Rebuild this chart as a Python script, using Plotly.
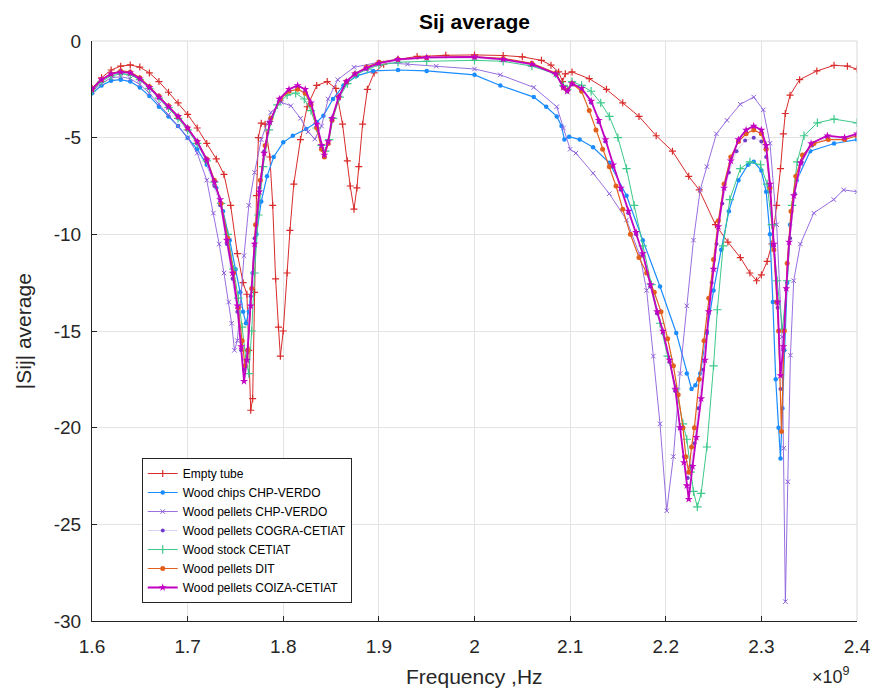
import plotly.graph_objects as go

# ---------------- data (frequency in GHz, |Sij| average) ----------------
empty_f = [1.600,1.610,1.620,1.630,1.640,1.650,1.660,1.670,1.680,1.690,1.700,1.710,1.720,1.730,1.738,1.745,1.752,1.758,1.762,1.764,1.766,1.768,1.770,1.772,1.774,1.777,1.781,1.786,1.789,1.792,1.795,1.797,1.800,1.804,1.807,1.811,1.818,1.825,1.835,1.846,1.855,1.862,1.867,1.870,1.874,1.877,1.879,1.883,1.888,1.895,1.905,1.920,1.940,1.970,2.000,2.030,2.050,2.070,2.080,2.088,2.092,2.095,2.102,2.120,2.138,2.155,2.172,2.190,2.207,2.224,2.235,2.252,2.265,2.278,2.288,2.295,2.300,2.306,2.311,2.316,2.320,2.323,2.325,2.330,2.340,2.358,2.376,2.390,2.400]
empty_s = [-2.45,-1.9,-1.5,-1.3,-1.24,-1.35,-1.65,-2.1,-2.65,-3.2,-3.8,-4.5,-5.3,-6.1,-6.9,-8.5,-11.0,-12.5,-13.1,-16.0,-19.1,-18.5,-13.0,-8.0,-5.0,-4.25,-4.3,-6.0,-8.5,-12.3,-14.8,-16.3,-15.0,-12.0,-9.8,-7.4,-5.1,-3.4,-2.3,-2.1,-2.45,-4.3,-6.2,-7.5,-8.7,-7.6,-6.5,-4.3,-2.5,-1.65,-1.2,-0.95,-0.8,-0.74,-0.72,-0.75,-0.82,-1.0,-1.25,-1.6,-2.1,-1.7,-1.6,-1.95,-2.5,-3.2,-3.9,-4.9,-5.7,-7.0,-7.7,-9.5,-10.4,-11.2,-12.0,-12.4,-12.1,-11.4,-10.5,-8.5,-6.6,-4.8,-3.75,-2.8,-2.0,-1.55,-1.26,-1.3,-1.45]

chips_f = [1.600,1.610,1.620,1.630,1.640,1.650,1.660,1.670,1.680,1.690,1.700,1.710,1.720,1.730,1.737,1.744,1.750,1.755,1.758,1.761,1.764,1.768,1.772,1.777,1.783,1.790,1.800,1.810,1.824,1.835,1.842,1.852,1.863,1.877,1.894,1.920,1.950,2.000,2.027,2.062,2.075,2.086,2.091,2.094,2.099,2.110,2.124,2.141,2.159,2.176,2.194,2.211,2.222,2.227,2.231,2.236,2.243,2.250,2.258,2.266,2.276,2.286,2.292,2.300,2.305,2.309,2.312,2.315,2.318,2.320,2.322,2.324,2.327,2.330,2.337,2.351,2.376,2.400]
chips_s = [-2.7,-2.3,-2.05,-2.0,-2.1,-2.4,-2.85,-3.4,-3.9,-4.4,-5.0,-5.6,-6.4,-7.6,-8.8,-10.3,-11.8,-13.0,-14.0,-14.6,-14.0,-12.0,-10.0,-8.3,-7.0,-6.0,-5.24,-4.9,-4.55,-4.2,-3.86,-3.0,-2.3,-1.8,-1.55,-1.5,-1.55,-1.75,-2.3,-2.9,-3.4,-3.9,-4.4,-5.1,-4.95,-5.1,-5.5,-6.3,-8.0,-10.3,-12.7,-15.1,-17.2,-18.0,-17.8,-17.2,-15.1,-12.9,-10.8,-8.8,-7.2,-6.4,-6.25,-6.7,-7.8,-10.0,-13.5,-17.5,-20.0,-21.6,-19.0,-16.0,-12.5,-9.5,-7.2,-5.7,-5.3,-5.1]

verdo_f = [1.600,1.610,1.620,1.630,1.640,1.650,1.660,1.670,1.680,1.690,1.700,1.710,1.720,1.727,1.733,1.738,1.743,1.746,1.749,1.752,1.755,1.759,1.764,1.770,1.777,1.787,1.798,1.808,1.818,1.826,1.833,1.840,1.847,1.857,1.874,1.900,1.930,1.960,2.000,2.027,2.062,2.086,2.093,2.100,2.106,2.124,2.141,2.159,2.173,2.180,2.187,2.194,2.201,2.208,2.215,2.222,2.229,2.236,2.243,2.253,2.264,2.278,2.292,2.302,2.309,2.316,2.3216,2.3234,2.3251,2.3276,2.3304,2.3338,2.3408,2.3548,2.3757,2.386,2.400]
verdo_s = [-2.6,-2.2,-1.9,-1.85,-1.95,-2.25,-2.7,-3.25,-3.8,-4.4,-5.0,-5.8,-7.2,-8.9,-10.5,-12.0,-13.5,-14.6,-16.0,-15.5,-13.7,-11.1,-8.5,-6.8,-5.1,-3.7,-3.17,-3.35,-4.0,-4.7,-5.07,-4.4,-3.0,-2.0,-1.36,-1.1,-1.2,-1.3,-1.45,-1.75,-2.4,-3.4,-4.5,-5.6,-5.8,-6.84,-7.9,-9.26,-11.1,-12.9,-16.3,-19.8,-24.3,-21.5,-17.2,-13.7,-10.3,-7.7,-6.5,-4.8,-4.1,-3.27,-2.9,-3.56,-5.29,-9.5,-15.3,-21.06,-29.0,-22.8,-16.25,-12.4,-10.5,-8.9,-8.2,-7.7,-7.8]

cogra_f = [1.600,1.610,1.620,1.630,1.640,1.650,1.660,1.670,1.680,1.690,1.700,1.710,1.720,1.728,1.734,1.741,1.747,1.752,1.756,1.759,1.762,1.766,1.770,1.775,1.780,1.786,1.796,1.806,1.815,1.823,1.829,1.835,1.840,1.843,1.847,1.851,1.858,1.866,1.875,1.887,1.900,1.920,1.950,2.000,2.030,2.060,2.085,2.093,2.097,2.102,2.112,2.122,2.130,2.137,2.145,2.153,2.161,2.169,2.176,2.184,2.191,2.197,2.204,2.210,2.215,2.219,2.223,2.226,2.230,2.234,2.239,2.243,2.248,2.253,2.259,2.266,2.274,2.283,2.292,2.300,2.305,2.309,2.313,2.317,2.320,2.323,2.326,2.330,2.335,2.342,2.353,2.369,2.387,2.400]
cogra_s = [-2.55,-2.05,-1.75,-1.65,-1.7,-2.0,-2.45,-2.95,-3.45,-4.0,-4.6,-5.3,-6.3,-7.5,-8.5,-10.5,-12.3,-14.0,-16.0,-17.0,-16.0,-13.2,-10.2,-7.6,-5.7,-4.2,-3.1,-2.6,-2.45,-2.65,-3.3,-4.4,-5.5,-5.9,-5.2,-4.0,-2.9,-2.15,-1.75,-1.45,-1.2,-1.0,-0.9,-0.88,-1.0,-1.25,-1.75,-2.45,-2.6,-2.25,-2.5,-3.2,-4.2,-5.2,-6.5,-7.7,-8.9,-10.0,-11.1,-12.7,-14.1,-15.1,-16.6,-18.1,-20.0,-21.5,-22.6,-22.0,-20.8,-19.0,-17.0,-15.0,-12.5,-10.5,-8.4,-6.8,-5.7,-5.15,-5.0,-5.2,-6.0,-7.8,-10.6,-13.8,-18.0,-16.0,-12.8,-10.2,-7.9,-6.3,-5.4,-5.0,-5.05,-4.85]

stock_f = [1.600,1.610,1.620,1.630,1.640,1.650,1.660,1.670,1.680,1.690,1.700,1.710,1.720,1.728,1.735,1.742,1.748,1.753,1.757,1.761,1.764,1.767,1.770,1.774,1.779,1.785,1.794,1.804,1.813,1.822,1.829,1.835,1.840,1.844,1.848,1.852,1.859,1.867,1.876,1.888,1.900,1.920,1.950,2.000,2.030,2.060,2.085,2.093,2.097,2.102,2.112,2.122,2.132,2.141,2.150,2.159,2.167,2.176,2.185,2.194,2.202,2.211,2.218,2.222,2.226,2.229,2.233,2.237,2.243,2.250,2.254,2.260,2.267,2.278,2.288,2.299,2.306,2.311,2.3165,2.322,2.327,2.332,2.3375,2.3446,2.3586,2.376,2.400]
stock_s = [-2.6,-2.1,-1.8,-1.7,-1.75,-2.0,-2.45,-2.95,-3.45,-4.0,-4.6,-5.3,-6.2,-7.3,-8.4,-10.0,-11.8,-13.3,-14.8,-16.5,-17.2,-15.0,-12.0,-9.0,-6.5,-4.6,-3.3,-2.8,-2.7,-3.0,-3.6,-4.5,-5.4,-5.7,-5.1,-4.0,-2.9,-2.2,-1.75,-1.45,-1.25,-1.1,-1.05,-1.0,-1.05,-1.3,-1.7,-2.3,-2.5,-2.1,-2.3,-2.6,-3.2,-3.9,-5.0,-6.6,-8.5,-10.6,-12.6,-14.6,-16.3,-18.0,-19.8,-20.6,-22.3,-23.3,-24.1,-23.4,-21.0,-16.8,-13.9,-10.6,-8.2,-6.6,-6.25,-6.4,-7.4,-9.5,-12.4,-14.9,-12.4,-8.5,-6.25,-4.9,-4.23,-4.04,-4.23]

dit_f = [1.600,1.610,1.620,1.630,1.640,1.650,1.660,1.670,1.680,1.690,1.700,1.710,1.720,1.728,1.735,1.742,1.748,1.753,1.757,1.760,1.763,1.767,1.771,1.776,1.781,1.787,1.797,1.806,1.815,1.823,1.829,1.835,1.840,1.843,1.847,1.851,1.858,1.866,1.875,1.887,1.900,1.920,1.950,2.000,2.030,2.060,2.085,2.093,2.097,2.102,2.112,2.120,2.127,2.134,2.141,2.148,2.155,2.163,2.172,2.180,2.188,2.195,2.202,2.208,2.213,2.218,2.221,2.224,2.227,2.230,2.235,2.240,2.245,2.250,2.255,2.261,2.268,2.276,2.284,2.292,2.300,2.305,2.309,2.313,2.316,2.318,2.321,2.324,2.327,2.331,2.336,2.343,2.355,2.370,2.387,2.400]
dit_s = [-2.5,-2.0,-1.7,-1.55,-1.6,-1.9,-2.35,-2.85,-3.35,-3.9,-4.5,-5.2,-6.1,-7.2,-8.4,-10.2,-12.0,-13.8,-15.5,-16.8,-16.0,-12.8,-9.5,-7.2,-5.4,-4.0,-3.0,-2.6,-2.5,-2.7,-3.3,-4.5,-5.6,-6.0,-5.3,-4.1,-2.9,-2.1,-1.7,-1.35,-1.1,-0.95,-0.85,-0.82,-0.9,-1.15,-1.65,-2.4,-2.55,-2.2,-2.6,-3.6,-4.6,-5.6,-6.5,-7.5,-8.7,-10.0,-11.2,-12.0,-13.0,-14.0,-15.4,-16.8,-18.3,-20.0,-21.5,-22.3,-21.0,-20.0,-17.5,-15.5,-13.3,-11.3,-9.3,-7.4,-6.0,-5.2,-4.8,-4.6,-4.8,-5.6,-7.6,-10.8,-13.5,-15.0,-20.2,-15.0,-11.5,-8.8,-7.0,-5.9,-5.3,-5.1,-5.1,-4.9]

coiza_f = [1.600,1.610,1.620,1.630,1.640,1.650,1.660,1.670,1.680,1.690,1.700,1.710,1.720,1.728,1.734,1.741,1.747,1.752,1.756,1.759,1.762,1.766,1.770,1.775,1.780,1.786,1.796,1.806,1.815,1.823,1.829,1.835,1.840,1.843,1.847,1.851,1.858,1.866,1.875,1.887,1.900,1.920,1.950,2.000,2.030,2.060,2.085,2.093,2.097,2.102,2.112,2.122,2.130,2.137,2.145,2.153,2.161,2.169,2.176,2.184,2.191,2.197,2.204,2.210,2.215,2.219,2.222,2.224,2.228,2.232,2.237,2.241,2.245,2.250,2.255,2.261,2.268,2.276,2.284,2.292,2.300,2.305,2.309,2.313,2.317,2.320,2.323,2.326,2.329,2.334,2.341,2.352,2.369,2.387,2.400]
coiza_s = [-2.5,-2.0,-1.7,-1.6,-1.65,-1.95,-2.4,-2.9,-3.4,-3.9,-4.5,-5.2,-6.15,-7.3,-8.2,-10.3,-12.0,-13.7,-15.8,-17.6,-16.5,-13.7,-10.5,-7.8,-5.8,-4.2,-3.0,-2.5,-2.3,-2.5,-3.2,-4.3,-5.4,-5.9,-5.2,-4.0,-2.9,-2.1,-1.7,-1.4,-1.15,-0.95,-0.85,-0.82,-0.95,-1.2,-1.7,-2.4,-2.6,-2.2,-2.45,-3.1,-4.1,-5.1,-6.4,-7.6,-8.8,-9.9,-11.0,-12.6,-14.0,-15.0,-16.5,-18.0,-20.0,-21.8,-23.0,-23.7,-22.0,-20.5,-18.5,-16.5,-14.0,-11.8,-9.6,-7.6,-6.2,-5.1,-4.6,-4.4,-4.6,-5.4,-7.4,-10.5,-13.5,-17.3,-15.8,-12.8,-10.4,-8.0,-6.3,-5.3,-4.9,-5.0,-4.8]

x_ticks = [1.6, 1.7, 1.8, 1.9, 2.0, 2.1, 2.2, 2.3, 2.4]
x_tick_text = ["1.6", "1.7", "1.8", "1.9", "2", "2.1", "2.2", "2.3", "2.4"]
y_ticks = [0, -5, -10, -15, -20, -25, -30]
y_tick_text = ["0", "-5", "-10", "-15", "-20", "-25", "-30"]

FONT = "Liberation Sans, Arial, sans-serif"
AX = "#262626"

series = [
    ("Empty tube", empty_f, empty_s, dict(color="#D92B2B", width=1.0),
     dict(symbol="cross-thin-open", size=5, color="#D92B2B", line=dict(width=1.2, color="#D92B2B"))),
    ("Wood chips CHP-VERDO", chips_f, chips_s, dict(color="#1A8CFF", width=1.2),
     dict(symbol="circle", size=4.5, color="#1A8CFF")),
    ("Wood pellets CHP-VERDO", verdo_f, verdo_s, dict(color="#8C5FDB", width=0.9),
     dict(symbol="x-thin-open", size=4.5, color="#8C5FDB", line=dict(width=1, color="#8C5FDB"))),
    ("Wood pellets COGRA-CETIAT", cogra_f, cogra_s, dict(color="#DCD0F4", width=1.0),
     dict(symbol="circle", size=4, color="#6E3CC8")),
    ("Wood stock CETIAT", stock_f, stock_s, dict(color="#3DC98A", width=1.0),
     dict(symbol="cross-thin-open", size=6, color="#3DC98A", line=dict(width=1.2, color="#3DC98A"))),
    ("Wood pellets DIT", dit_f, dit_s, dict(color="#E2601C", width=1.2),
     dict(symbol="circle", size=5, color="#E2601C")),
    ("Wood pellets COIZA-CETIAT", coiza_f, coiza_s, dict(color="#C200C2", width=1.8),
     dict(symbol="star", size=6, color="#C200C2")),
]

fig = go.Figure()
for name, f, s, line, marker in series:
    fig.add_trace(go.Scatter(x=f, y=s, mode="lines+markers", name=name,
                             line=line, marker=marker))

fig.update_layout(
    width=876, height=691, autosize=False,
    margin=dict(l=92, r=19, t=41, b=70),
    paper_bgcolor="white", plot_bgcolor="white",
    font=dict(family=FONT, color=AX, size=19),
    showlegend=True,
    legend=dict(x=0.065, y=0.281, xanchor="left", yanchor="top",
                bgcolor="white", bordercolor=AX, borderwidth=1,
                font=dict(family=FONT, size=12, color="#000000"),
                tracegroupgap=0),
    xaxis=dict(range=[1.6, 2.4], tickvals=x_ticks, ticktext=x_tick_text,
               showgrid=True, gridcolor="#E3E3E3", gridwidth=1,
               zeroline=False, showline=True, linecolor=AX, linewidth=1,
               ticks="inside", ticklen=5, tickcolor=AX, automargin=False,
               ticklabelstandoff=8,
               tickfont=dict(size=19, color=AX)),
    yaxis=dict(range=[-30, 0], tickvals=y_ticks, ticktext=y_tick_text,
               showgrid=True, gridcolor="#E3E3E3", gridwidth=1,
               zeroline=False, showline=True, linecolor=AX, linewidth=1,
               ticks="inside", ticklen=5, tickcolor=AX, automargin=False,
               ticklabelstandoff=6,
               tickfont=dict(size=19, color=AX)),
)

# light box on the top and right sides
fig.add_shape(type="line", xref="paper", yref="paper", x0=0, x1=1, y0=1, y1=1,
              line=dict(color="#D9D9D9", width=1))
fig.add_shape(type="line", xref="paper", yref="paper", x0=1, x1=1, y0=0, y1=1,
              line=dict(color="#D9D9D9", width=1))

# title and axis titles
fig.add_annotation(text="<b>Sij average</b>", xref="paper", yref="paper",
                   x=0.5, y=1.033, xanchor="center", yanchor="middle", showarrow=False,
                   font=dict(family=FONT, size=21, color="#000000"))
fig.add_annotation(text="Frequency ,Hz", xref="paper", yref="paper",
                   x=0.5, y=-0.095, xanchor="center", yanchor="middle", showarrow=False,
                   font=dict(family=FONT, size=21, color=AX))
fig.add_annotation(text="|Sij| average", xref="paper", yref="paper",
                   x=-0.09, y=0.5, xanchor="center", yanchor="middle", textangle=-90,
                   showarrow=False, font=dict(family=FONT, size=21, color=AX))
fig.add_annotation(text="×10<sup>9</sup>", xref="paper", yref="paper",
                   x=0.993, y=-0.118, xanchor="right", yanchor="bottom", showarrow=False,
                   font=dict(family=FONT, size=18, color=AX))

# remove the default page margin so the figure fills the window exactly
fig.write_html("out.html",
               config={"responsive": False, "displayModeBar": False},
               post_script="document.body.style.margin='0px';document.body.style.overflow='hidden';")
